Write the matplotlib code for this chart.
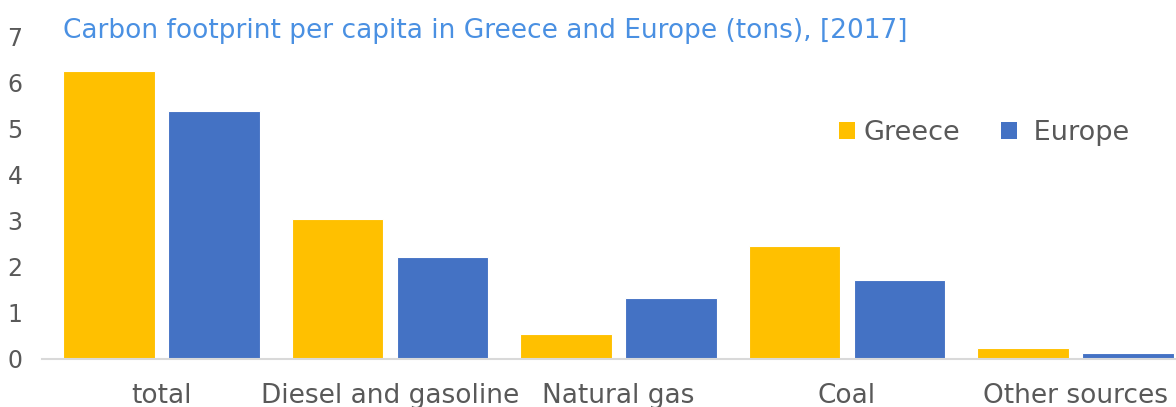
import matplotlib
matplotlib.use("Agg")
import matplotlib.pyplot as plt
import numpy as np
from matplotlib.patches import Patch

categories = ["total", "Diesel and gasoline", "Natural gas", "Coal", "Other sources"]
greece = [6.26, 3.05, 0.54, 2.46, 0.23]
europe = [5.39, 2.22, 1.32, 1.72, 0.14]
yticks = [0, 1, 2, 3, 4, 5, 6, 7]
title = "Carbon footprint per capita in Greece and Europe (tons), [2017]"

W, H = 1176, 407
fig = plt.figure(figsize=(W / 100, H / 100), dpi=100)
left, right, bottom, top = 42, 1176, 359, 37
ax = fig.add_axes([left / W, (H - bottom) / H, (right - left) / W, (bottom - top) / H])

grey = "#595959"
yellow = "#FFC000"
blue = "#4472C4"
x = np.arange(len(categories))
bw = 0.40
off = 0.23
ax.bar(x - off, greece, bw, color=yellow, edgecolor="white", linewidth=0.8, label="Greece")
ax.bar(x + off, europe, bw, color=blue, edgecolor="white", linewidth=0.8, label="Europe")

ax.set_xlim(-0.523, 4.44)
ax.set_ylim(0, 7)
ax.set_yticks(yticks)
ax.set_xticks(x)
ax.set_xticklabels(categories)
for s in ["top", "right", "left"]:
    ax.spines[s].set_visible(False)
ax.spines["bottom"].set_color("#D9D9D9")
ax.spines["bottom"].set_linewidth(1.5)
ax.tick_params(axis="y", length=0, pad=14, labelsize=17, labelcolor=grey)
ax.tick_params(axis="x", length=0, pad=17, labelsize=19, labelcolor=grey)
ax.set_facecolor("none")

fig.text(63 / W, 1 - 31 / H, title, color="#4A90E2", fontsize=19, ha="left", va="center")

handles = [Patch(facecolor=yellow), Patch(facecolor=blue)]
leg = ax.legend(handles, ["Greece", " Europe"], ncol=2, frameon=False,
                fontsize=19.5, labelcolor=grey, handlelength=0.6, handleheight=0.6,
                handletextpad=0.3, columnspacing=1.5,
                loc="center left", bbox_to_anchor=(839 / W, 1 - 133 / H),
                bbox_transform=fig.transFigure, borderaxespad=0, borderpad=0)

fig.savefig("out.png", dpi=100)
